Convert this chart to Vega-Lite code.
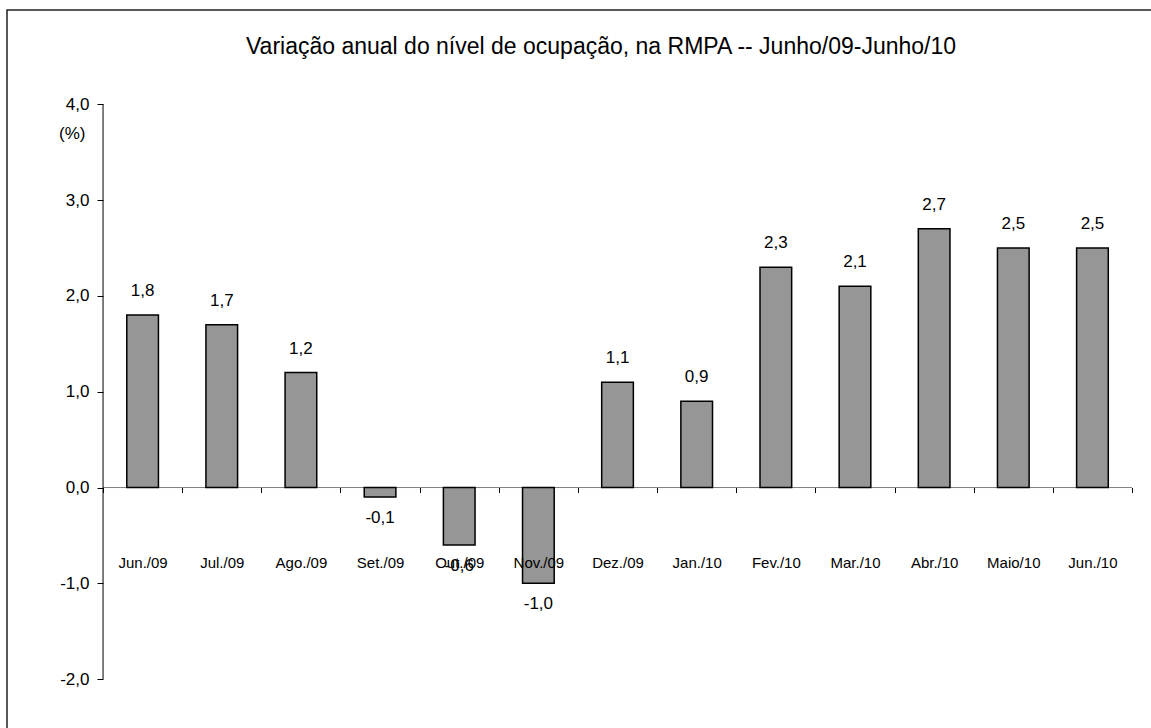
{
  "$schema": "https://vega.github.io/schema/vega-lite/v6.json",
  "width": 1144,
  "height": 718,
  "autosize": {"type": "none"},
  "padding": {"left": 7, "top": 10, "right": 0, "bottom": 0},
  "background": "white",
  "title": {
    "text": "Variação anual do nível de ocupação, na RMPA -- Junho/09-Junho/10",
    "orient": "top",
    "anchor": "middle",
    "frame": "group",
    "offset": -67,
    "baseline": "alphabetic",
    "dx": 22,
    "fontSize": 23,
    "fontWeight": "normal",
    "font": "Liberation Sans",
    "color": "black"
  },
  "data": {
    "values": [
      {"mes": "Jun./09", "v": 1.8},
      {"mes": "Jul./09", "v": 1.7},
      {"mes": "Ago./09", "v": 1.2},
      {"mes": "Set./09", "v": -0.1},
      {"mes": "Out./09", "v": -0.6},
      {"mes": "Nov./09", "v": -1.0},
      {"mes": "Dez./09", "v": 1.1},
      {"mes": "Jan./10", "v": 0.9},
      {"mes": "Fev./10", "v": 2.3},
      {"mes": "Mar./10", "v": 2.1},
      {"mes": "Abr./10", "v": 2.7},
      {"mes": "Maio/10", "v": 2.5},
      {"mes": "Jun./10", "v": 2.5}
    ]
  },
  "config": {
    "locale": {"number": {"decimal": ",", "thousands": ".", "grouping": [3], "currency": ["", ""], "minus": "-"}},
    "view": {"stroke": "#222222", "strokeWidth": 1.5, "strokeDash": [1144, 1862, 718]},
    "font": "Liberation Sans"
  },
  "layer": [
    {
      "data": {"values": [{}]},
      "mark": {"type": "rule", "color": "#808080", "strokeWidth": 1},
      "encoding": {
        "x": {"datum": "Jun./09", "type": "nominal", "bandPosition": 0},
        "x2": {"datum": "Jun./10", "bandPosition": 1},
        "y": {"datum": 0, "type": "quantitative"}
      }
    },
    {
      "data": {"values": [{}]},
      "mark": {"type": "rule", "color": "black", "strokeWidth": 1},
      "encoding": {
        "x": {"datum": "Jun./09", "type": "nominal", "bandPosition": 0},
        "y": {"datum": -2, "type": "quantitative"},
        "y2": {"datum": 4}
      }
    },
    {
      "mark": {"type": "bar", "width": {"band": 0.4}, "fill": "#969696", "stroke": "black", "strokeWidth": 1.5},
      "encoding": {
        "x": {
          "field": "mes",
          "type": "nominal",
          "sort": null,
          "scale": {
            "domain": ["Jun./09", "Jul./09", "Ago./09", "Set./09", "Out./09", "Nov./09", "Dez./09", "Jan./10", "Fev./10", "Mar./10", "Abr./10", "Maio/10", "Jun./10"],
            "paddingInner": 0,
            "paddingOuter": 0.7265,
            "align": 0.835,
            "round": false
          },
          "axis": {
            "title": null,
            "orient": "bottom",
            "offset": -240.5,
            "zindex": 1,
            "domain": false,
            "ticks": true,
            "tickBand": "extent",
            "tickSize": 5,
            "tickColor": "black",
            "labelAngle": 0,
            "labelAlign": "center",
            "labelFontSize": 15,
            "labelColor": "black",
            "labelPadding": 70,
            "labelBaseline": "middle",
            "labelOverlap": false,
            "grid": false
          }
        },
        "y": {
          "field": "v",
          "type": "quantitative",
          "scale": {"domain": [-2.51, 4.984], "nice": false, "zero": false},
          "axis": {
            "title": "(%)",
            "orient": "left",
            "offset": -96,
            "domain": false,
            "values": [-2, -1, 0, 1, 2, 3, 4],
            "format": ".1f",
            "tickSize": 6,
            "tickColor": "black",
            "labelFontSize": 17,
            "labelColor": "black",
            "labelPadding": 8,
            "grid": false,
            "titleAngle": 0,
            "titleAlign": "right",
            "titleBaseline": "middle",
            "titleX": -18,
            "titleY": 123,
            "titleFontSize": 17,
            "titleFontWeight": "normal",
            "titleColor": "black"
          }
        }
      }
    },
    {
      "transform": [{"filter": "datum.v >= 0"}],
      "mark": {"type": "text", "baseline": "middle", "dy": -24, "fontSize": 17, "color": "black"},
      "encoding": {
        "x": {"field": "mes", "type": "nominal", "sort": null},
        "y": {"field": "v", "type": "quantitative"},
        "text": {"field": "v", "type": "quantitative", "format": ".1f"}
      }
    },
    {
      "transform": [{"filter": "datum.v < 0"}],
      "mark": {"type": "text", "baseline": "middle", "dy": 21, "fontSize": 17, "color": "black"},
      "encoding": {
        "x": {"field": "mes", "type": "nominal", "sort": null},
        "y": {"field": "v", "type": "quantitative"},
        "text": {"field": "v", "type": "quantitative", "format": ".1f"}
      }
    }
  ]
}
